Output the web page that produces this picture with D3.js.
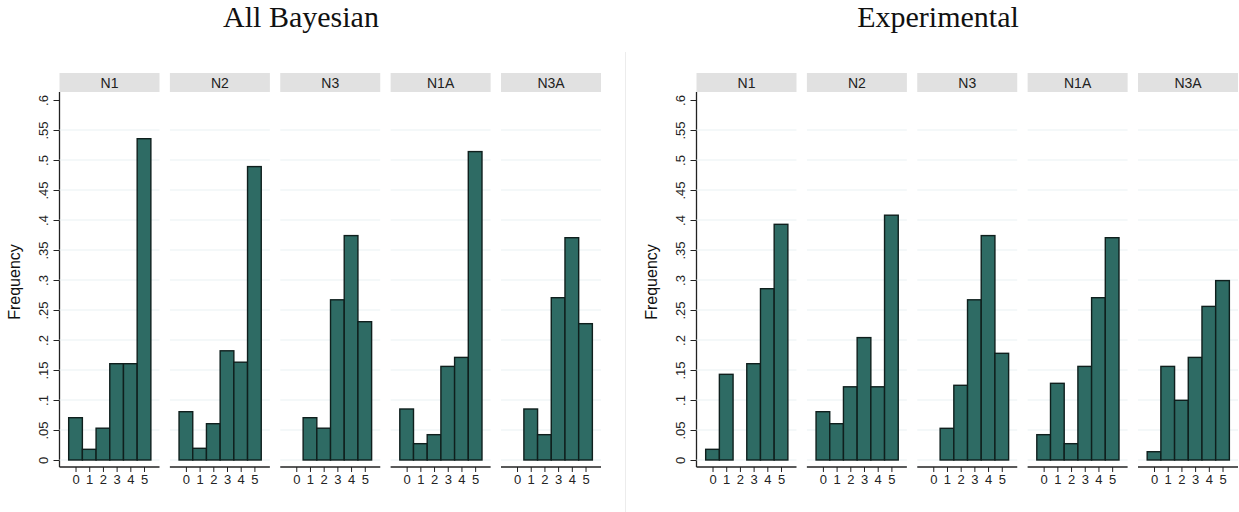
<!DOCTYPE HTML>
<meta charset="utf-8">
<html>
  <head>
    <script src="https://d3js.org/d3.v7.min.js" charset="utf-8"></script>
    <style>
      body { margin: 0; background: #fff; }
      text { font-family: "Liberation Sans", Arial, sans-serif; }
    </style>
  </head>
  <body>
    <script>
      // data
      var groups = ["All Bayesian", "Experimental"]
      var panels = ["N1", "N2", "N3", "N1A", "N3A"]
      var bins = [0, 1, 2, 3, 4, 5]
      var yTicks = [0, .05, .1, .15, .2, .25, .3, .35, .4, .45, .5, .55, .6]
      var yTickLabels = ["0", ".05", ".1", ".15", ".2", ".25", ".3", ".35", ".4", ".45", ".5", ".55", ".6"]

      var bayesN1  = [0.0705, 0.0178, 0.053, 0.1605, 0.1605, 0.5355]
      var bayesN2  = [0.0805, 0.0195, 0.0605, 0.182, 0.163, 0.489]
      var bayesN3  = [0, 0.0705, 0.053, 0.267, 0.374, 0.2305]
      var bayesN1A = [0.085, 0.0272, 0.0422, 0.156, 0.171, 0.514]
      var bayesN3A = [0, 0.085, 0.0422, 0.2705, 0.3705, 0.2272]

      var expN1  = [0.0178, 0.1428, 0, 0.1605, 0.2855, 0.3928]
      var expN2  = [0.0805, 0.0605, 0.122, 0.204, 0.122, 0.408]
      var expN3  = [0, 0.0528, 0.1245, 0.267, 0.374, 0.1778]
      var expN1A = [0.0422, 0.1278, 0.0272, 0.156, 0.2705, 0.3705]
      var expN3A = [0.0138, 0.156, 0.0995, 0.171, 0.256, 0.299]

      var groupData = [
        [bayesN1, bayesN2, bayesN3, bayesN1A, bayesN3A],
        [expN1, expN2, expN3, expN1A, expN3A]
      ]

      var W = 1239, H = 512
      var svg = d3.select("body").append("svg")
                  .attr("width", W)
                  .attr("height", H)

      var yScale = d3.scaleLinear().domain([0, 0.6]).range([460, 100])
      var groupX = d3.scaleOrdinal().domain(groups).range([0, 637])
      var panelX = d3.scaleLinear().domain([0, 4]).range([59.5, 501])
      var panelW = 100
      var stripTop = 73, stripH = 19
      var axisY = 467

      // faint divider between the two graphs
      svg.append("line")
        .attr("x1", 625.5).attr("x2", 625.5)
        .attr("y1", 52).attr("y2", H)
        .attr("stroke", "#ececec")

      groups.forEach(function(gname, gi) {
        var g = svg.append("g").attr("transform", "translate(" + groupX(gname) + ",0)")

        // title
        svg.append("text")
          .attr("x", groupX(gname) + 301)
          .attr("y", 27)
          .attr("text-anchor", "middle")
          .style("font-family", "'Liberation Serif', 'DejaVu Serif', serif")
          .style("font-size", "30px")
          .attr("fill", "#111")
          .text(gname)

        // y axis title
        g.append("text")
          .attr("transform", "translate(20,282) rotate(-90)")
          .attr("text-anchor", "middle")
          .style("font-size", "16px")
          .attr("fill", "#111")
          .text("Frequency")

        // y axis
        var yAxis = d3.axisLeft(yScale)
          .tickValues(yTicks)
          .tickFormat(function(d, i) { return yTickLabels[i] })
          .tickSize(6)
          .tickSizeOuter(0)
        var ya = g.append("g")
          .attr("transform", "translate(" + panelX(0) + ",0)")
          .call(yAxis)
        ya.select(".domain").remove()
        ya.append("line")
          .attr("x1", 0).attr("x2", 0)
          .attr("y1", 92).attr("y2", axisY)
          .attr("stroke", "#222")
          .attr("stroke-width", 1.3)
        ya.selectAll(".tick line").attr("stroke", "#222")
        ya.selectAll(".tick text")
          .attr("x", 0).attr("dy", 0)
          .attr("transform", "translate(-12,0) rotate(-90)")
          .attr("text-anchor", "middle")
          .style("font-size", "13px")
          .attr("fill", "#222")

        panels.forEach(function(pname, pi) {
          var x0 = panelX(pi)
          var xScale = d3.scaleLinear().domain([-1.17, 6.13]).range([x0, x0 + panelW])
          var vals = groupData[gi][pi]

          // strip
          g.append("rect")
            .attr("x", x0).attr("y", stripTop)
            .attr("width", panelW).attr("height", stripH)
            .attr("fill", "#e1e1e1")
          g.append("text")
            .attr("x", x0 + panelW / 2)
            .attr("y", stripTop + 14.5)
            .attr("text-anchor", "middle")
            .style("font-size", "14px")
            .attr("fill", "#222")
            .text(pname)

          // grid lines
          g.selectAll(null)
            .data(yTicks.slice(0, 12))
            .enter()
            .append("line")
            .attr("x1", x0).attr("x2", x0 + panelW)
            .attr("y1", function(d) { return yScale(d) })
            .attr("y2", function(d) { return yScale(d) })
            .attr("stroke", "#eaf1f4")
            .attr("stroke-width", 1.2)

          // bars
          g.selectAll(null)
            .data(bins.filter(function(b) { return vals[b] > 0 }))
            .enter()
            .append("rect")
            .attr("x", function(b) { return xScale(b - 0.5) })
            .attr("width", function(b) { return xScale(b + 0.5) - xScale(b - 0.5) })
            .attr("y", function(b) { return yScale(vals[b]) })
            .attr("height", function(b) { return yScale(0) - yScale(vals[b]) })
            .attr("fill", "#2e6b64")
            .attr("stroke", "#0f1f1d")
            .attr("stroke-width", 1.4)

          // x axis
          var xAxis = d3.axisBottom(xScale).tickValues(bins).tickSize(5).tickSizeOuter(0)
          var xa = g.append("g")
            .attr("transform", "translate(0," + axisY + ")")
            .call(xAxis)
          xa.select(".domain").remove()
          xa.append("line")
            .attr("x1", x0).attr("x2", x0 + panelW)
            .attr("stroke", "#222")
            .attr("stroke-width", 1.3)
          xa.selectAll(".tick line").attr("stroke", "#222")
          xa.selectAll(".tick text")
            .attr("y", 8)
            .style("font-size", "13px")
            .attr("fill", "#222")
        })
      })
    </script>
  </body>
</html>
